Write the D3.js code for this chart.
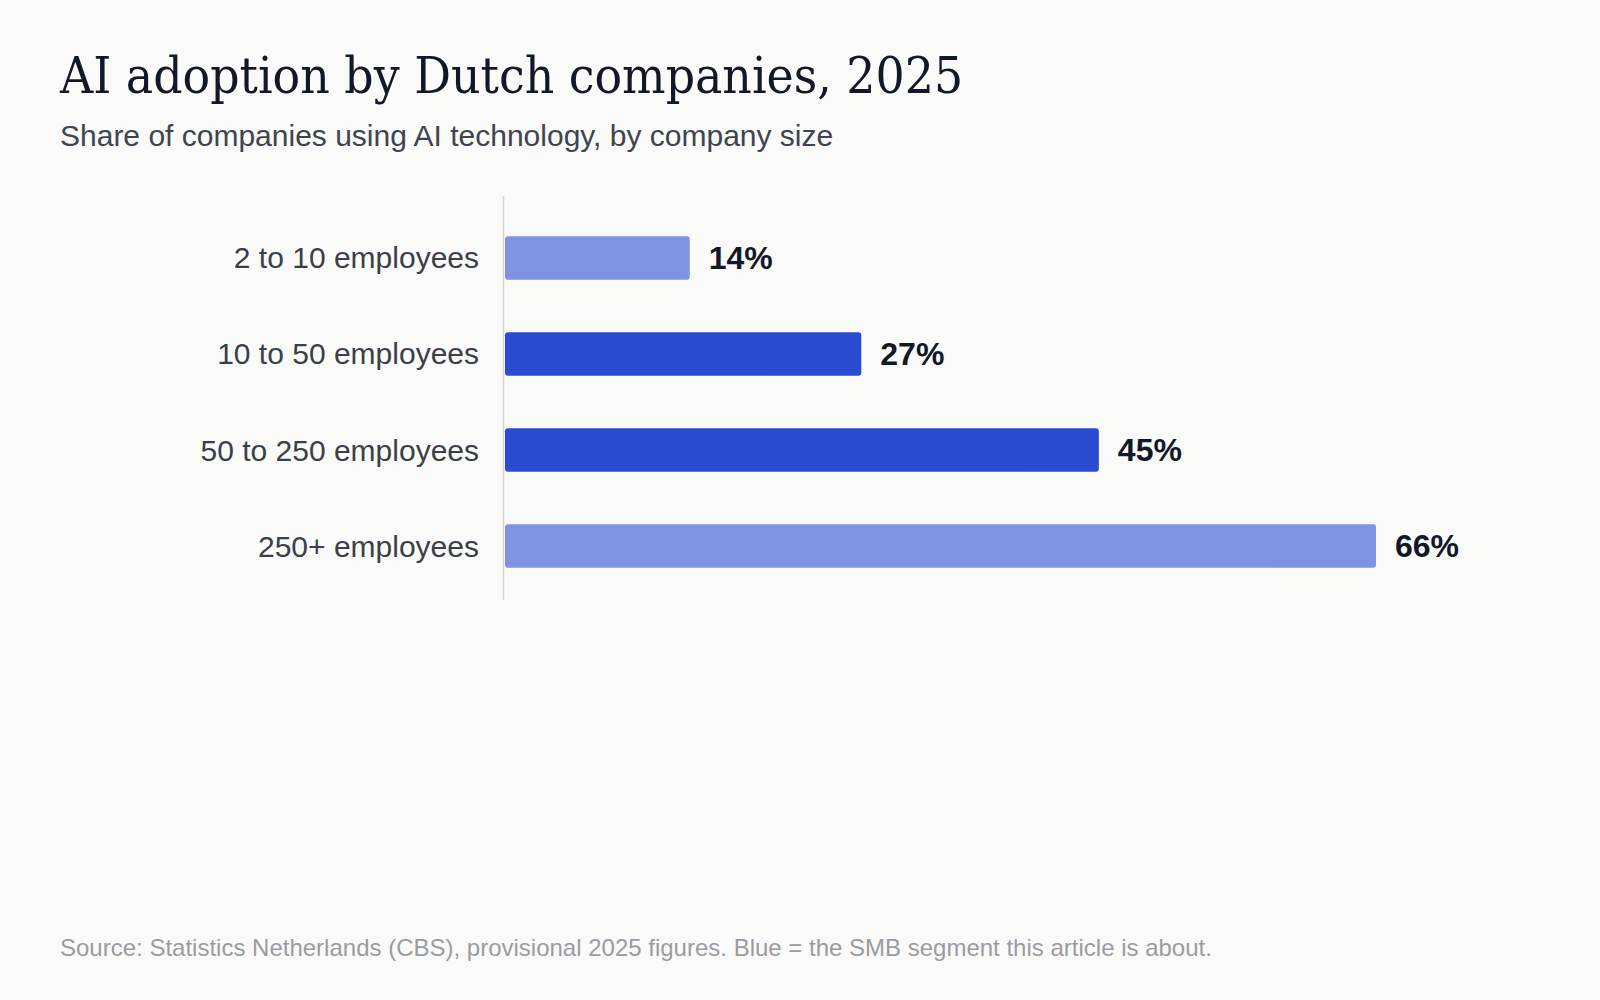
<!DOCTYPE html>
<html>
<head>
<meta charset="utf-8">
<script src="https://cdn.jsdelivr.net/npm/d3@7"></script>
<style>
  html, body { margin: 0; padding: 0; background: #fafaf8; }
  svg { display: block; }
</style>
</head>
<body>
<script>
'use strict';

// categories, values and which rows are the highlighted SMB segment
const categories = ['2 to 10 employees', '10 to 50 employees', '50 to 250 employees', '250+ employees'];
const shares = [14, 27, 45, 66];
const highlighted = [false, true, true, false];

const titleText = 'AI adoption by Dutch companies, 2025';
const subtitleText = 'Share of companies using AI technology, by company size';
const sourceText = 'Source: Statistics Netherlands (CBS), provisional 2025 figures. Blue = the SMB segment this article is about.';

function draw() {
  const width = 1600, height = 1000;
  const left = 505;

  const svg = d3.select('body').append('svg')
      .attr('width', width)
      .attr('height', height)
      .style('background', '#fafaf8');

  // titles
  svg.append('text')
      .attr('x', 60).attr('y', 93)
      .attr('fill', '#111827')
      .style('font', '51px "DejaVu Serif Condensed", Georgia, "DejaVu Serif", serif')
      .style('font-stretch', 'condensed')
      .text(titleText);

  svg.append('text')
      .attr('x', 60).attr('y', 146)
      .attr('fill', '#3f4451')
      .style('font', '30px "Liberation Sans", Arial, sans-serif')
      .text(subtitleText);

  // scales
  const x = d3.scaleLinear()
      .domain([0, d3.max(shares)])
      .range([left, 1376]);

  const y = d3.scaleBand()
      .domain(categories)
      .range([200, 604])
      .paddingInner(0.547)
      .paddingOuter(0.377);

  const rows = categories.map((c, i) => ({ name: c, value: shares[i], hi: highlighted[i] }));

  // baseline axis
  svg.append('line')
      .attr('x1', left - 1.5).attr('x2', left - 1.5)
      .attr('y1', 196).attr('y2', 600)
      .attr('stroke', '#d6d6d6')
      .attr('stroke-width', 1.5);

  const row = svg.selectAll('g.row')
    .data(rows)
    .join('g')
      .attr('class', 'row');

  row.append('rect')
      .attr('x', x(0))
      .attr('y', d => y(d.name))
      .attr('width', d => x(d.value) - x(0))
      .attr('height', y.bandwidth())
      .attr('rx', 3)
      .attr('fill', d => d.hi ? '#2b4cd0' : '#7f93e2');

  row.append('text')
      .attr('x', left - 26)
      .attr('y', d => y(d.name) + y.bandwidth() / 2)
      .attr('dy', '0.35em')
      .attr('text-anchor', 'end')
      .attr('fill', '#3a3f4a')
      .style('font', '30px "Liberation Sans", Arial, sans-serif')
      .text(d => d.name);

  row.append('text')
      .attr('x', d => x(d.value) + 19)
      .attr('y', d => y(d.name) + y.bandwidth() / 2)
      .attr('dy', '0.35em')
      .attr('fill', '#111827')
      .style('font', 'bold 32px "Liberation Sans", Arial, sans-serif')
      .text(d => d.value + '%');

  // footnote
  svg.append('text')
      .attr('x', 60).attr('y', 956)
      .attr('fill', '#9a9ca3')
      .style('font', '24px "Liberation Sans", Arial, sans-serif')
      .text(sourceText);
}

document.addEventListener('DOMContentLoaded', draw);
</script>
</body>
</html>
